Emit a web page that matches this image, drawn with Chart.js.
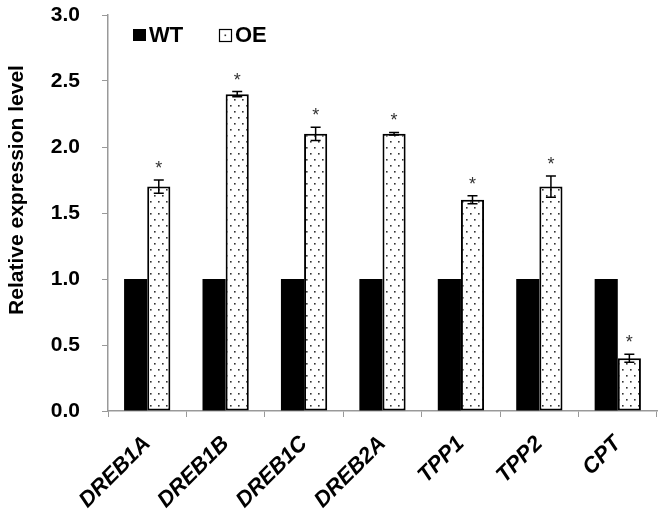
<!DOCTYPE html>
<html>
<head>
<meta charset="utf-8">
<script src="https://cdn.jsdelivr.net/npm/chart.js@4.4.1/dist/chart.umd.min.js"></script>
<style>
  html, body { margin: 0; padding: 0; background: #fff; }
  #wrap { width: 664px; height: 523px; position: relative; }
</style>
</head>
<body>
<div id="wrap"><canvas id="c" width="664" height="523"></canvas></div>
<script>
// ---- data ----
const categories = ["DREB1A", "DREB1B", "DREB1C", "DREB2A", "TPP1", "TPP2", "CPT"];
const wtValues = [1, 1, 1, 1, 1, 1, 1];
const oeValues = [1.7, 2.4, 2.1, 2.1, 1.6, 1.7, 0.4];
const oeErrors = [0.05, 0.02, 0.05, 0.01, 0.03, 0.08, 0.03];
const significance = ["*", "*", "*", "*", "*", "*", "*"];
const seriesNames = ["WT", "OE"];
const yTicks = [0, 0.5, 1.0, 1.5, 2.0, 2.5, 3.0];
const yTitle = "Relative expression level";

const FONT = "'Liberation Sans', Arial, sans-serif";

// dotted pattern
function makeDots() {
  const p = document.createElement('canvas');
  p.width = 8; p.height = 12;
  const g = p.getContext('2d');
  g.fillStyle = '#fff';
  g.fillRect(0, 0, 8, 12);
  g.fillStyle = '#333';
  g.fillRect(2, 3, 1.6, 1.6);
  g.fillRect(6, 9, 1.6, 1.6);
  return g.createPattern(p, 'repeat');
}
const ctx0 = document.getElementById('c').getContext('2d');
const dots = makeDots();

const errorPlugin = {
  id: 'errorBars',
  afterDatasetsDraw(chart) {
    const ctx = chart.ctx;
    const meta = chart.getDatasetMeta(1);
    const y = chart.scales.y;
    ctx.save();
    ctx.strokeStyle = '#000';
    ctx.lineWidth = 1.5;
    meta.data.forEach((bar, i) => {
      const v = oeValues[i], e = oeErrors[i];
      const x = bar.x;
      const yt = y.getPixelForValue(v + e);
      const yb = y.getPixelForValue(v - e);
      ctx.beginPath();
      ctx.moveTo(x, yt); ctx.lineTo(x, yb);
      ctx.moveTo(x - 5, yt); ctx.lineTo(x + 5, yt);
      ctx.moveTo(x - 5, yb); ctx.lineTo(x + 5, yb);
      ctx.stroke();
      ctx.fillStyle = '#333';
      ctx.font = '18px ' + FONT;
      ctx.textAlign = 'center';
      ctx.textBaseline = 'alphabetic';
      ctx.fillText(significance[i], x, yt - 6);
    });
    ctx.restore();
  }
};

const legendPlugin = {
  id: 'customLegend',
  afterDraw(chart) {
    const ctx = chart.ctx;
    const ds = chart.data.datasets;
    ctx.save();
    ctx.font = 'bold 22px ' + FONT;
    ctx.textBaseline = 'middle';
    ctx.textAlign = 'left';
    // WT
    ctx.fillStyle = '#000';
    ctx.fillRect(133, 29, 13, 12);
    ctx.fillText(ds[0].label, 149, 36);
    // OE
    ctx.fillStyle = '#fff';
    ctx.fillRect(219, 29, 12, 12);
    ctx.strokeStyle = '#000';
    ctx.lineWidth = 1.2;
    ctx.strokeRect(219.5, 29.5, 12, 12);
    ctx.fillStyle = '#333';
    ctx.fillRect(224.5, 34.5, 1.6, 1.6);
    ctx.fillStyle = '#000';
    ctx.fillText(ds[1].label, 235, 36);
    // y-axis title
    ctx.translate(17, 190);
    ctx.rotate(-Math.PI / 2);
    ctx.textAlign = 'center';
    ctx.font = 'bold 21px ' + FONT;
    ctx.fillText(yTitle, 0, 0);
    ctx.restore();
  }
};

new Chart(ctx0, {
  type: 'bar',
  data: {
    labels: categories,
    datasets: [
      { label: seriesNames[0], data: wtValues, backgroundColor: '#000', borderColor: '#000', borderWidth: 0,
        barPercentage: 1.0, categoryPercentage: 0.59 },
      { label: seriesNames[1], data: oeValues, backgroundColor: dots, borderColor: '#000', borderWidth: 2,
        borderSkipped: false, barPercentage: 1.0, categoryPercentage: 0.59 }
    ]
  },
  options: {
    responsive: false,
    animation: false,
    devicePixelRatio: 1,
    layout: { padding: { top: 15, right: 7, left: 0, bottom: 0 } },
    plugins: { legend: { display: false }, tooltip: { enabled: false } },
    scales: {
      x: {
        afterFit(s) { s.height = 112; s.paddingLeft = 0; s.paddingRight = 0; s.paddingTop = 0; s.paddingBottom = 0; },
        grid: { display: true, drawOnChartArea: false, drawTicks: true, tickLength: 6, color: '#999', offset: true },
        border: { color: '#999', width: 1.5 },
        ticks: {
          color: '#000', autoSkip: false, minRotation: 45, maxRotation: 45, padding: 14,
          font: { family: FONT, size: 22, weight: 'bold', style: 'italic' }
        }
      },
      y: {
        min: 0, max: 3,
        afterFit(s) { s.width = 108; s.paddingTop = 0; s.paddingBottom = 0; s.paddingLeft = 0; s.paddingRight = 0; },
        afterBuildTicks(s) { s.ticks = yTicks.map(v => ({ value: v })); },
        grid: { display: true, drawOnChartArea: false, drawTicks: true, tickLength: 6, color: '#999' },
        border: { color: '#999', width: 1.5 },
        ticks: {
          color: '#000', padding: 22,
          font: { family: FONT, size: 21, weight: 'bold' },
          callback: v => Number(v).toFixed(1)
        },
        title: { display: false }
      }
    }
  },
  plugins: [errorPlugin, legendPlugin]
});
</script>
</body>
</html>
